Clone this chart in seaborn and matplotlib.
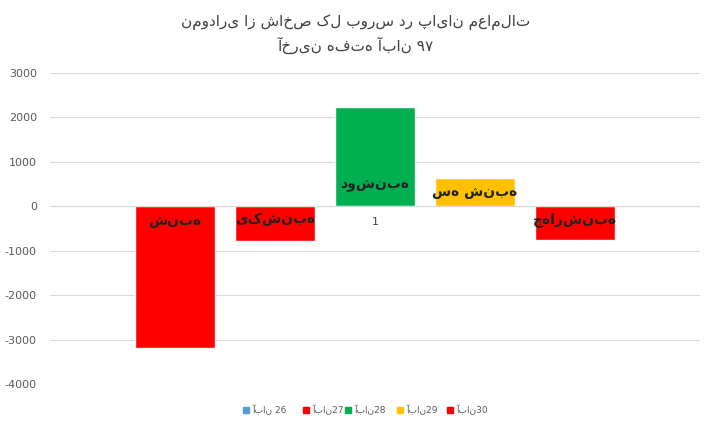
import matplotlib
matplotlib.use("Agg")
import matplotlib.pyplot as plt
import seaborn as sns
import pandas as pd

series = ["آبان 26", "آبان27", "آبان28", "آبان29", "آبان30"]
values = [-3180, -780, 2230, 640, -750]
bar_colors = ["#FF0000", "#FF0000", "#00B050", "#FFC000", "#FF0000"]
legend_colors = ["#5B9BD5", "#FF0000", "#00B050", "#FFC000", "#FF0000"]
day_labels = ["شنبه", "یکشنبه", "دوشنبه", "سه شنبه", "چهارشنبه"]
title_lines = ["نموداری از شاخص کل بورس در پایان معاملات", "آخرین هفته آبان ۹۷"]
yticks = [-4000, -3000, -2000, -1000, 0, 1000, 2000, 3000]

sns.set_theme(style="white")
plt.rcParams['font.family'] = ['DejaVu Sans']

fig = plt.figure(figsize=(7.11, 4.29), dpi=100)
ax = fig.add_axes([50/711, 1-384/429, 650/711, (384-73)/429])
df = pd.DataFrame({"s": series, "v": values})
sns.barplot(data=df, x="s", y="v", hue="s", palette=bar_colors, width=0.8,
            legend=False, ax=ax, saturation=1)
ax.set_xlim(-1.25, 5.25)
ax.set_ylim(-4000, 3000)
ax.set_yticks(yticks)
ax.set_yticklabels([str(t) for t in yticks], fontsize=8, color="#595959")
ax.set_xticks([])
ax.set_xlabel("")
ax.set_ylabel("")
ax.grid(axis="y", color="#D9D9D9", linewidth=0.8)
ax.set_axisbelow(True)
for sp in ax.spines.values():
    sp.set_visible(False)
ax.axhline(0, color="#D9D9D9", linewidth=0.8)

label_y = [-320, -280, 480, 320, -300]
for i, (y, lab) in enumerate(zip(label_y, day_labels)):
    ax.text(i, y, lab, ha="center", va="center", fontsize=10,
            fontweight="bold", color="#222222")
ax.text(2, -350, "1", ha="center", va="center", fontsize=8, color="#404040")

fig.text(0.5, 1-22/429, title_lines[0], ha="center", va="center", fontsize=11, color="#404040")
fig.text(0.5, 1-45/429, title_lines[1], ha="center", va="center", fontsize=11, color="#404040")

xs = [243, 303, 345, 397, 447]
for x, c, s in zip(xs, legend_colors, series):
    fig.patches.append(plt.Rectangle((x/711, 1-413/429), 6/711, 6/429,
                                     transform=fig.transFigure, color=c))
    fig.text((x+9)/711, 1-410/429, s, ha="left", va="center", fontsize=6.5, color="#595959")

fig.savefig("out.png", dpi=100)
